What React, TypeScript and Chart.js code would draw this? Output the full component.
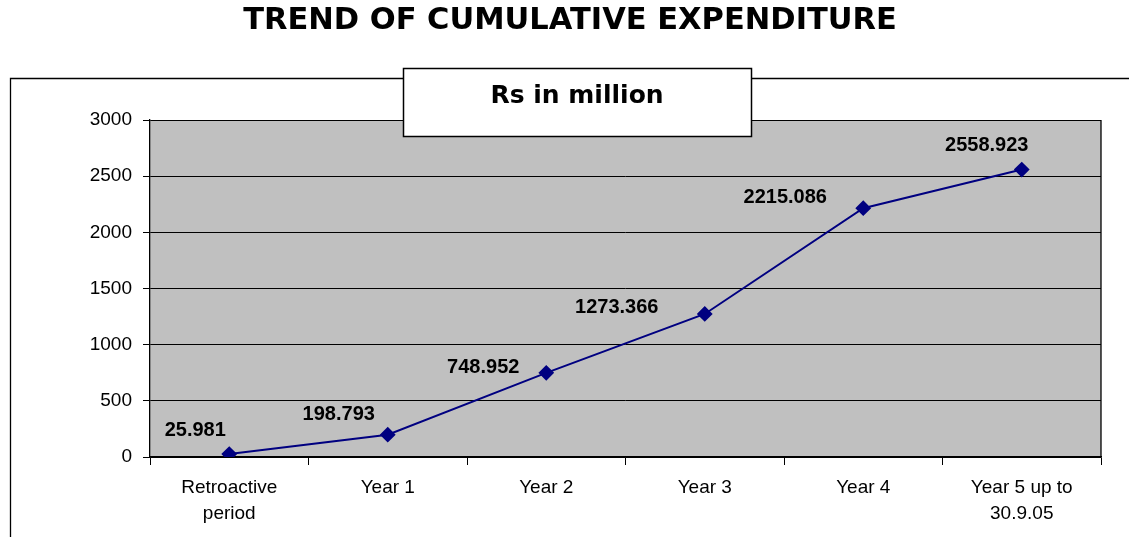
import React, { useEffect, useRef } from "react";
import { Chart, registerables } from "chart.js";

Chart.register(...registerables);

const categories: (string | string[])[] = [
  ["Retroactive", "period"],
  "Year 1",
  "Year 2",
  "Year 3",
  "Year 4",
  ["Year 5 up to", "30.9.05"],
];
const expenditure: number[] = [25.981, 198.793, 748.952, 1273.366, 2215.086, 2558.923];
const valueLabels: string[] = ["25.981", "198.793", "748.952", "1273.366", "2215.086", "2558.923"];
const chartTitle = "TREND OF CUMULATIVE EXPENDITURE";
const unitLabel = "Rs in million";
// label placement relative to each point (pixels)
const labelDx: number[] = [-34, -49, -63, -88, -78, -35];
const labelDy: number[] = [-24, -20, -5, -6, -11, -24];

const decorPlugin = {
  id: "decor",
  beforeDraw(chart: any) {
    const { ctx, chartArea } = chart;
    ctx.save();
    ctx.fillStyle = "#ffffff";
    ctx.fillRect(0, 0, chart.width, chart.height);
    // outer frame
    ctx.strokeStyle = "#000000";
    ctx.lineWidth = 1.3;
    ctx.beginPath();
    ctx.moveTo(10.5, chart.height + 5);
    ctx.lineTo(10.5, 78.5);
    ctx.lineTo(chart.width + 5, 78.5);
    ctx.stroke();
    // plot background
    ctx.fillStyle = "#C0C0C0";
    ctx.fillRect(chartArea.left, chartArea.top, chartArea.right - chartArea.left, chartArea.bottom - chartArea.top);
    ctx.restore();
  },
  afterDraw(chart: any) {
    const { ctx, chartArea } = chart;
    ctx.save();
    // plot border right
    ctx.strokeStyle = "#000000";
    ctx.lineWidth = 1.3;
    ctx.beginPath();
    ctx.moveTo(chartArea.right, chartArea.top);
    ctx.lineTo(chartArea.right, chartArea.bottom);
    ctx.stroke();
    // title
    ctx.fillStyle = "#000000";
    ctx.font = "bold 30.5px 'DejaVu Sans'";
    ctx.textAlign = "center";
    ctx.textBaseline = "middle";
    ctx.fillText(chartTitle, 570, 21);
    // unit box
    ctx.fillStyle = "#ffffff";
    ctx.fillRect(403.5, 68.5, 348, 68);
    ctx.strokeStyle = "#000000";
    ctx.lineWidth = 1.5;
    ctx.strokeRect(403.5, 68.5, 348, 68);
    ctx.fillStyle = "#000000";
    ctx.font = "bold 25px 'DejaVu Sans'";
    ctx.fillText(unitLabel, 577, 96);
    // data labels
    const meta = chart.getDatasetMeta(0);
    ctx.font = "bold 20px 'Liberation Sans', Arial";
    meta.data.forEach((pt: any, i: number) => {
      ctx.fillText(valueLabels[i], pt.x + labelDx[i], pt.y + labelDy[i]);
    });
    ctx.restore();
  },
};

export default function App() {
  const ref = useRef<HTMLCanvasElement>(null);
  useEffect(() => {
    if (!ref.current) return;
    const chart = new Chart(ref.current, {
      type: "line",
      data: {
        labels: categories,
        datasets: [
          {
            data: expenditure,
            borderColor: "#000080",
            backgroundColor: "#000080",
            borderWidth: 2,
            pointStyle: "rectRot",
            pointRadius: 6.5,
            pointHoverRadius: 6.5,
            tension: 0,
            fill: false,
          },
        ],
      },
      options: {
        animation: false,
        responsive: false,
        events: [],
        layout: { padding: { left: 0, top: 120, right: 28, bottom: 0 } },
        plugins: {
          legend: { display: false },
          title: { display: false },
          tooltip: { enabled: false },
        },
        scales: {
          x: {
            offset: true,
            grid: {
              offset: true,
              drawOnChartArea: false,
              drawTicks: true,
              tickLength: 8,
              tickColor: "#000000",
              color: "#000000",
            },
            border: { color: "#000000", width: 1.3 },
            ticks: {
              color: "#000000",
              font: { family: "'Liberation Sans', Arial", size: 19, lineHeight: 1.35 },
              padding: 10,
              maxRotation: 0,
              autoSkip: false,
            },
            afterFit(scale: any) {
              scale.height = 80;
            },
          },
          y: {
            min: 0,
            max: 3000,
            ticks: {
              stepSize: 500,
              color: "#000000",
              font: { family: "'Liberation Sans', Arial", size: 19 },
              padding: 11,
              callback: (v: any) => String(v),
            },
            grid: {
              color: "#000000",
              lineWidth: 1,
              tickLength: 7,
              tickColor: "#000000",
            },
            border: { color: "#000000", width: 1.3 },
            afterFit(scale: any) {
              scale.width = 150;
            },
          },
        },
      },
      plugins: [decorPlugin],
    });
    return () => chart.destroy();
  }, []);
  return (
    <div style={{ position: "fixed", left: 0, top: 0, width: 1129, height: 537 }}>
      <canvas ref={ref} width={1129} height={537} style={{ width: 1129, height: 537, display: "block" }} />
    </div>
  );
}
